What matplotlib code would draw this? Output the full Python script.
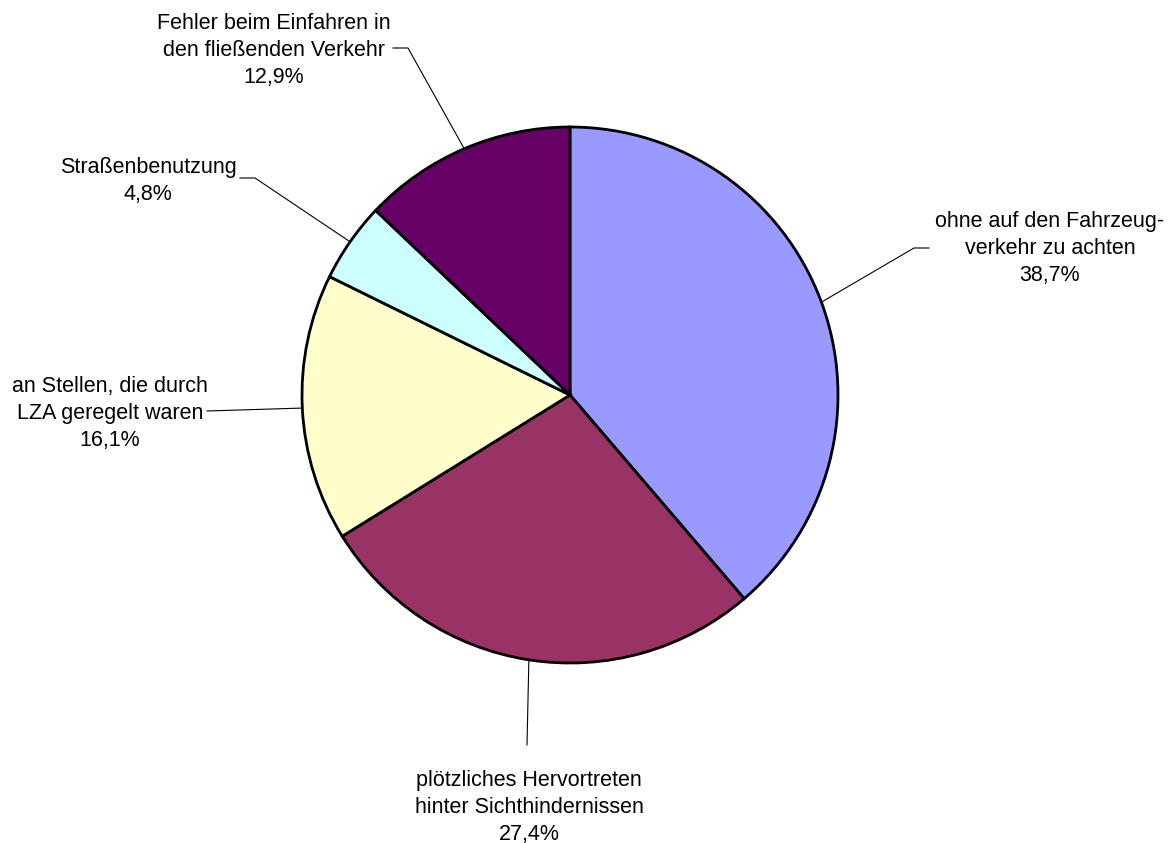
import numpy as np
import matplotlib
matplotlib.use('Agg')
import matplotlib.pyplot as plt

plt.rcParams['font.family'] = ['Liberation Sans', 'DejaVu Sans']

# data (clockwise from 12 o'clock)
labels = ['ohne auf den Fahrzeug-\nverkehr zu achten',
          'plötzliches Hervortreten\nhinter Sichthindernissen',
          'an Stellen, die durch\nLZA geregelt waren',
          'Straßenbenutzung',
          'Fehler beim Einfahren in\nden fließenden Verkehr']
shares = [38.7, 27.4, 16.1, 4.8, 12.9]
colors = ['#9999FF', '#993366', '#FFFFCC', '#CCFFFF', '#660066']

W, H = 1170, 843
cx, cy, r = 570, 395, 268

# label layout in pixels: centre of first text line, elbow points of the leader
text_pos = [(1050, 219), (529, 778), (110, 384), (148, 165), (274, 21)]
elbows = [[(929, 248), (914, 248)],
          [(527, 745)],
          [(207, 411)],
          [(240, 178), (255, 178)],
          [(393, 48), (408, 48)]]
line_step = 27.0

fig = plt.figure(figsize=(W / 100, H / 100), dpi=100)
ax = fig.add_axes([0, 0, 1, 1])


def py(y):
    return H - y


ax.pie(shares, colors=colors, startangle=90, counterclock=False,
       center=(cx, py(cy)), radius=r,
       wedgeprops=dict(edgecolor='black', linewidth=2))
ax.set_xlim(0, W)
ax.set_ylim(0, H)
ax.set_aspect('equal')
ax.axis('off')

total = sum(shares)
start = 90.0
for lab, val, tp, el in zip(labels, shares, text_pos, elbows):
    mid = start - val / total * 360 / 2
    start -= val / total * 360
    a = np.deg2rad(mid)
    ex, ey = cx + r * np.cos(a), cy - r * np.sin(a)
    xs = [p[0] for p in el] + [ex]
    ys = [py(p[1]) for p in el] + [py(ey)]
    ax.plot(xs, ys, color='black', linewidth=0.8)
    lines = lab.split('\n') + [f'{val:.1f}'.replace('.', ',') + '%']
    for i, s in enumerate(lines):
        ax.text(tp[0], py(tp[1] + i * line_step), s, ha='center',
                va='center_baseline', fontsize=15.5, color='black')

fig.savefig('out.png', dpi=100)
